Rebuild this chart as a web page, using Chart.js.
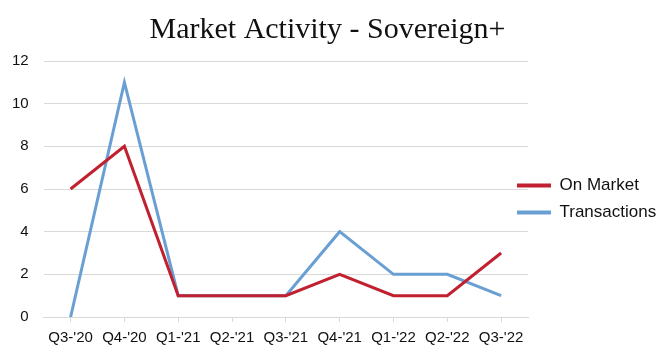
<!DOCTYPE html>
<html>
<head>
<meta charset="utf-8">
<script src="https://cdn.jsdelivr.net/npm/chart.js@4.4.0/dist/chart.umd.min.js"></script>
<style>
  html, body { margin: 0; padding: 0; background: #fff; }
  #wrap { width: 658px; height: 352px; }
</style>
</head>
<body>
<div id="wrap"><canvas id="canvas"></canvas></div>
<script>
const quarters = ["Q3-'20", "Q4-'20", "Q1-'21", "Q2-'21", "Q3-'21", "Q4-'21", "Q1-'22", "Q2-'22", "Q3-'22"];
const onMarket = [6, 8, 1, 1, 1, 2, 1, 1, 3];
const transactions = [0, 11, 1, 1, 1, 4, 2, 2, 1];
const yTicks = [0, 2, 4, 6, 8, 10, 12];

const red = '#c0202f';
const blue = '#6a9fd3';
const sans = '"Liberation Sans", Arial, sans-serif';

// nudge the legend a bit left and down, like the original
const legendShift = {
    id: 'legendShift',
    afterLayout: function(chart) {
        const lg = chart.legend;
        lg.left -= 21;
        lg.top += 22; lg.bottom += 22;
    }
};

const data = {
    labels: quarters,
    datasets: [
        {
            label: 'On Market',
            data: onMarket,
            borderColor: red,
            backgroundColor: red,
            borderWidth: 3,
            pointRadius: 0,
            tension: 0,
        },
        {
            label: 'Transactions',
            data: transactions,
            borderColor: blue,
            backgroundColor: blue,
            borderWidth: 3,
            pointRadius: 0,
            tension: 0,
        }
    ]
};

const config = {
    type: 'line',
    data: data,
    plugins: [legendShift],
    options: {
        responsive: true,
        maintainAspectRatio: false,
        animation: false,
        layout: { padding: { left: -3, right: 0, bottom: -2 } },
        plugins: {
            title: {
                display: true,
                text: 'Market Activity - Sovereign+',
                color: '#111',
                font: { family: '"Liberation Serif", "DejaVu Serif", serif', size: 30, weight: 'normal' },
                padding: { top: 12, bottom: 13 }
            },
            legend: {
                position: 'right',
                align: 'center',
                maxWidth: 130,
                labels: {
                    color: '#111',
                    font: { family: sans, size: 17 },
                    boxWidth: 34,
                    boxHeight: 4,
                    padding: 10,
                    generateLabels: function(chart) {
                        return chart.data.datasets.map(function(ds, i) {
                            return {
                                text: ds.label,
                                fillStyle: ds.borderColor,
                                strokeStyle: ds.borderColor,
                                lineWidth: 0,
                                fontColor: '#111',
                                datasetIndex: i,
                                hidden: false
                            };
                        });
                    }
                }
            },
            tooltip: { enabled: false }
        },
        scales: {
            x: {
                offset: true,
                grid: {
                    drawOnChartArea: false,
                    drawTicks: true,
                    tickLength: 5,
                    color: '#d9d9d9'
                },
                border: { display: true, color: '#d9d9d9', width: 1 },
                ticks: {
                    color: '#111',
                    font: { family: sans, size: 15 },
                    maxRotation: 0,
                    autoSkip: false,
                    padding: 7
                }
            },
            y: {
                min: 0,
                max: 12,
                afterBuildTicks: function(axis) {
                    axis.ticks = yTicks.map(function(v) { return { value: v }; });
                },
                grid: { color: '#d9d9d9', drawTicks: false },
                border: { display: false },
                ticks: {
                    color: '#111',
                    font: { family: sans, size: 15 },
                    padding: 15
                }
            }
        }
    }
};

const canvas = document.getElementById('canvas');
const chart = new Chart(canvas, config);
</script>
</body>
</html>
